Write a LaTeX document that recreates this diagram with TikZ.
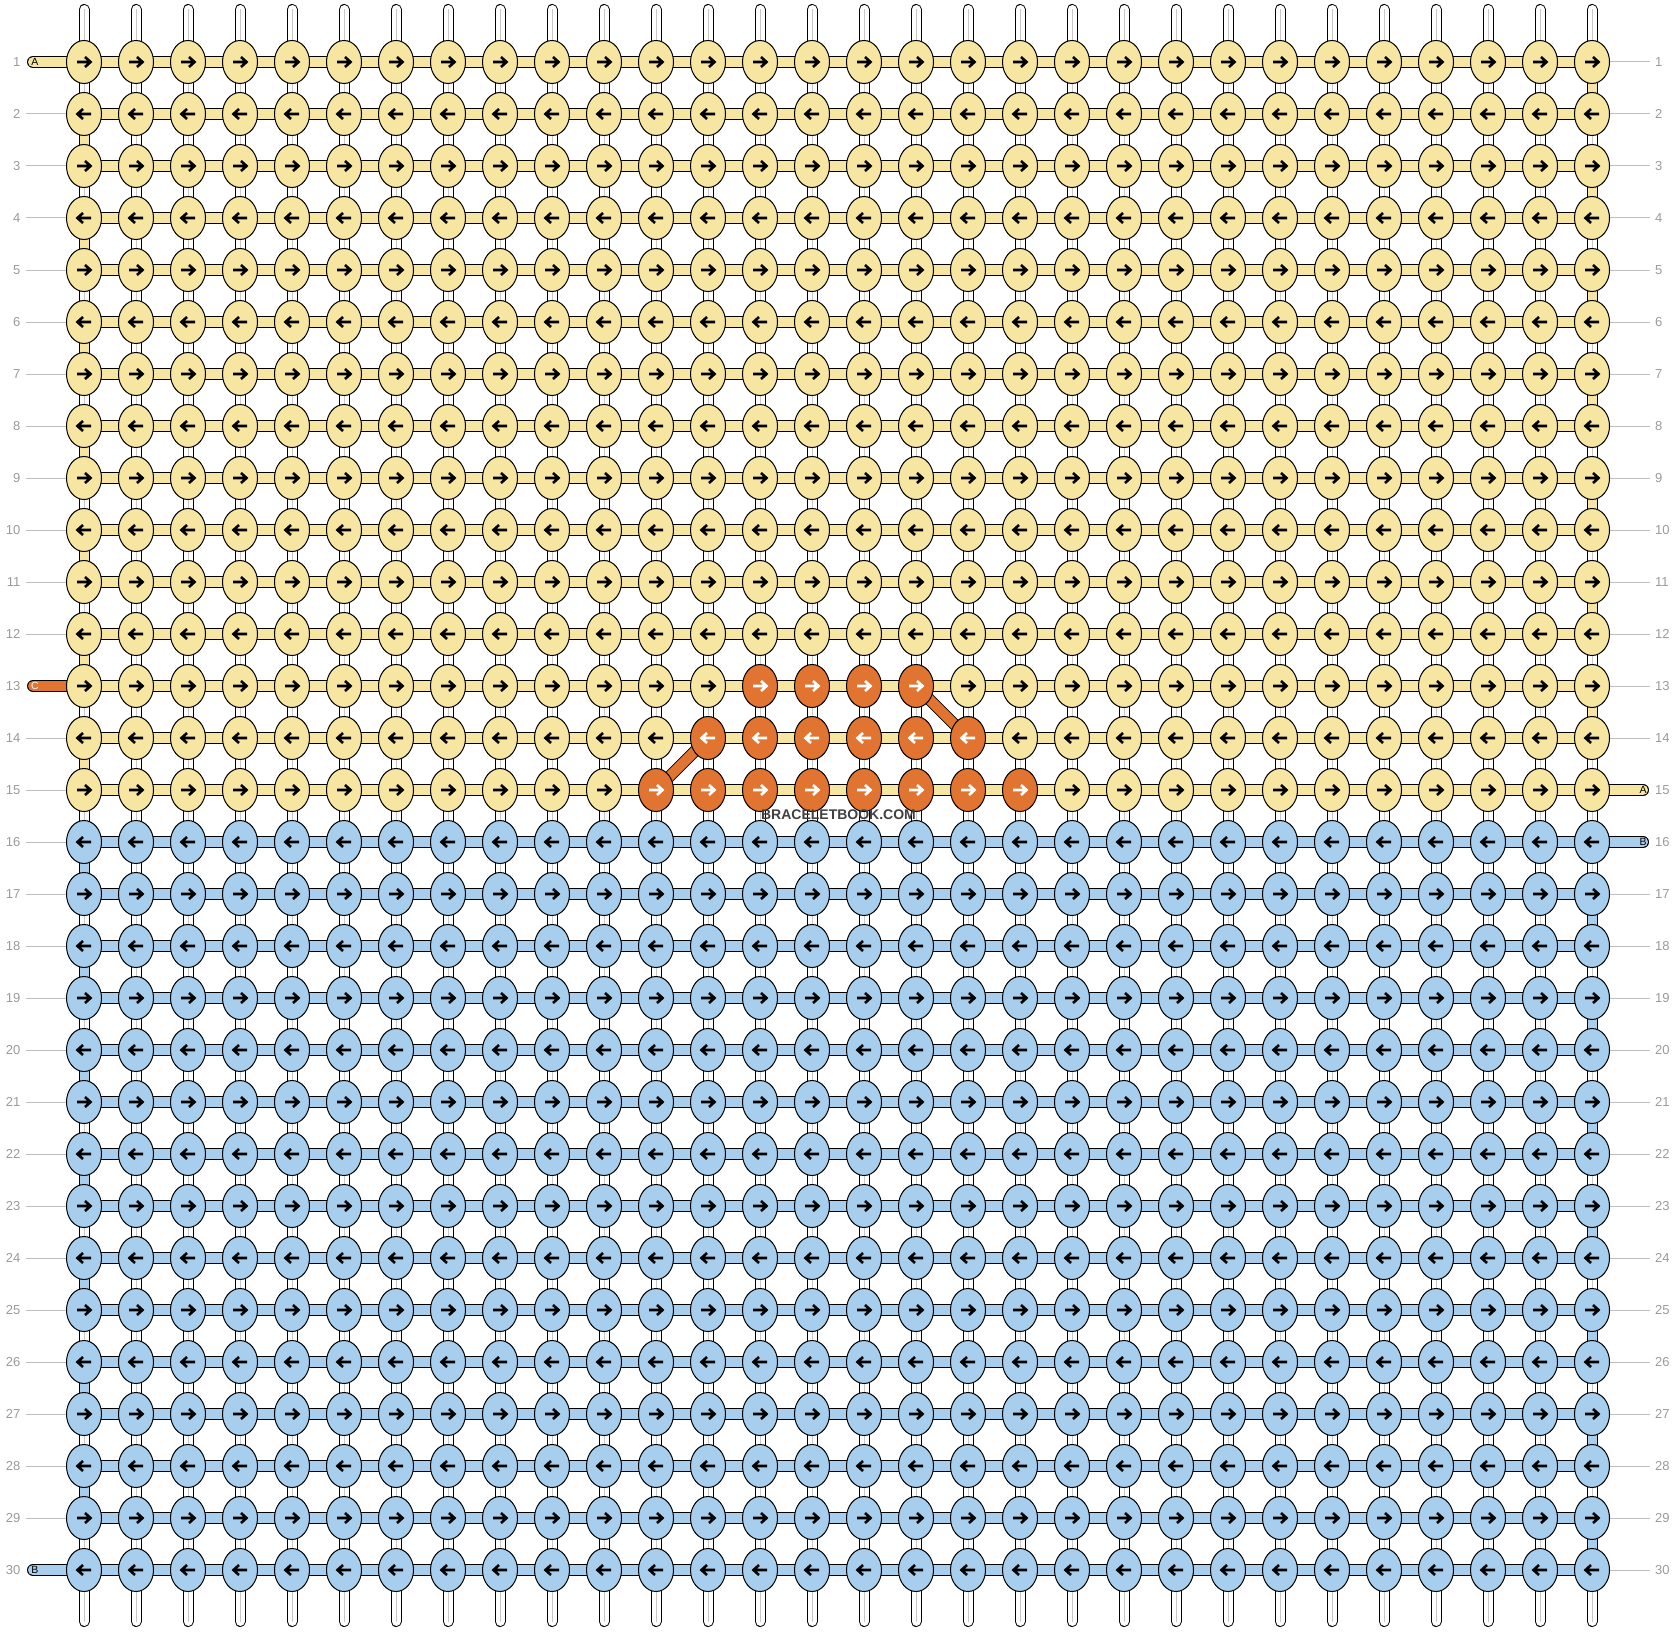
\documentclass[tikz,border=0pt]{standalone}
\usepackage{fontspec}
\setsansfont{Liberation Sans}
\usetikzlibrary{shapes.geometric}
\usetikzlibrary{backgrounds}

\definecolor{threadA}{HTML}{F6E6A2}
\definecolor{threadB}{HTML}{A8CEEE}
\definecolor{threadC}{HTML}{E07430}
\definecolor{rowgray}{HTML}{9A9A9A}

\begin{document}
\begin{tikzpicture}[
  x=1pt,y=-1pt,
  font=\sffamily,
  ink/.store in=\inkcol, ink=black,
  knot/.style={ellipse,draw,line width=1pt,minimum width=35pt,minimum height=43pt,inner sep=0pt},
  knotA/.style={knot,fill=threadA},
  knotB/.style={knot,fill=threadB},
  knotC/.style={knot,fill=threadC,ink=white},
  tip/.style={draw=\inkcol,line width=2.6pt,line join=miter},
  goR/.style={path picture={\draw[tip,shift={(path picture bounding box.center)}]
      (-7,0) -- (6,0) (1,-5) -- (6.5,0) -- (1,5);}},
  goL/.style={path picture={\draw[tip,shift={(path picture bounding box.center)}]
      (7,0) -- (-6,0) (-1,-5) -- (-6.5,0) -- (-1,5);}},
  weft/.style={draw=black,line width=1pt,double=#1,double distance=10pt},
  warp/.style={draw=black,line width=1pt,double=white,double distance=9pt},
  core/.style={draw=black!22,line width=1pt},
  tick/.style={draw=black!25,line width=1pt},
  rowno/.style={text=rowgray,inner sep=0pt,font=\sffamily\fontsize{13}{14}\selectfont},
  tag/.style={inner sep=0pt,font=\sffamily\fontsize{10.5}{11}\selectfont}]

  \useasboundingbox (0,0) rectangle (1676,1632);

  % Knots, row by row
  \foreach \r in {1,...,30}{
    \foreach \c in {1,...,30}{
      \ifnum\r>15 \def\shade{knotB}\else\def\shade{knotA}\fi
      \ifnum\r=13 \ifnum\c>13 \ifnum\c<18 \def\shade{knotC}\fi\fi\fi
      \ifnum\r=14 \ifnum\c>12 \ifnum\c<19 \def\shade{knotC}\fi\fi\fi
      \ifnum\r=15 \ifnum\c>11 \ifnum\c<20 \def\shade{knotC}\fi\fi\fi
      \ifodd\r \def\way{goR}\else\def\way{goL}\fi
      \node[\shade,\way] (k-\r-\c) at ({84+(\c-1)*52},{62+(\r-1)*52}) {};
    }
  }

  % Row numbers on both sides
  \foreach \r in {1,...,30}{
    \node[rowno,anchor=east] (nl-\r) at (20.5,{62+(\r-1)*52}) {\r};
    \node[rowno,anchor=west] (nr-\r) at (1655,{62+(\r-1)*52}) {\r};
  }
  \foreach \r in {2,...,12,14,15,...,29}
    \draw[tick] ([xshift=5pt]nl-\r.east) -- (k-\r-1.west);
  \foreach \r in {1,...,14,17,18,...,30}
    \draw[tick] ([xshift=-5pt]nr-\r.west) -- (k-\r-30.east);

  % Thread letters
  \node[tag] (tagA1) at (35,62) {A};
  \node[tag,text=white] (tagC) at (35,686) {C};
  \node[tag] (tagB1) at (35,1570) {B};
  \node[tag] (tagA2) at (1643,790) {A};
  \node[tag] (tagB2) at (1643,842) {B};

  \node[font=\sffamily\bfseries\fontsize{14}{14}\selectfont,text=black!75] (mark)
    at (838.5,815) {BRACELETBOOK.COM};

  \begin{pgfonlayer}{background}
    % hanging threads
    \foreach \c in {1,...,30}{
      \coordinate (top-\c) at ({84+(\c-1)*52},9.5);
      \coordinate (end-\c) at ({84+(\c-1)*52},1621.5);
      \draw[warp,line cap=round] (top-\c) -- (k-1-\c.center);
      \draw[warp,line cap=round] (end-\c) -- (k-30-\c.center);
      \draw[core] (top-\c) -- (k-1-\c.center);
      \draw[core] (end-\c) -- (k-30-\c.center);
    }
    % threads between rows
    \foreach \r [evaluate=\r as \s using int(\r+1)] in {1,...,29}
      \foreach \c in {1,...,30}{
        \draw[warp] (k-\r-\c.center) -- (k-\s-\c.center);
        \draw[core] (k-\r-\c.center) -- (k-\s-\c.center);
      }
    % knotting thread along each row
    \foreach \r in {1,...,30}{
      \ifnum\r>15 \def\hue{threadB}\else\def\hue{threadA}\fi
      \foreach \c [evaluate=\c as \d using int(\c+1)] in {1,...,29}
        \draw[weft=\hue] (k-\r-\c.center) -- (k-\r-\d.center);
    }
    % turns at the row ends
    \foreach \r [evaluate=\r as \s using int(\r+1)] in {1,...,14,16,17,...,29}{
      \ifnum\r>15 \def\hue{threadB}\else\def\hue{threadA}\fi
      \ifodd\r \def\endcol{30}\else\def\endcol{1}\fi
      \draw[weft=\hue,double distance=9pt] (k-\r-\endcol.center) -- (k-\s-\endcol.center);
    }
    % thread C
    \draw[weft=threadC] (k-13-17.center) -- (k-14-18.center);
    \draw[weft=threadC] (k-15-12.center) -- (k-14-13.center);
    % loose ends
    \draw[weft=threadA,line cap=round] ([xshift=-2pt]tagA1.center) -- (k-1-1.center);
    \draw[weft=threadC,line cap=round] ([xshift=-2pt]tagC.center) -- (k-13-1.center);
    \draw[weft=threadB,line cap=round] ([xshift=-2pt]tagB1.center) -- (k-30-1.center);
    \draw[weft=threadA,line cap=round] (tagA2.center) -- (k-15-30.center);
    \draw[weft=threadB,line cap=round] (tagB2.center) -- (k-16-30.center);
  \end{pgfonlayer}
\end{tikzpicture}
\end{document}
